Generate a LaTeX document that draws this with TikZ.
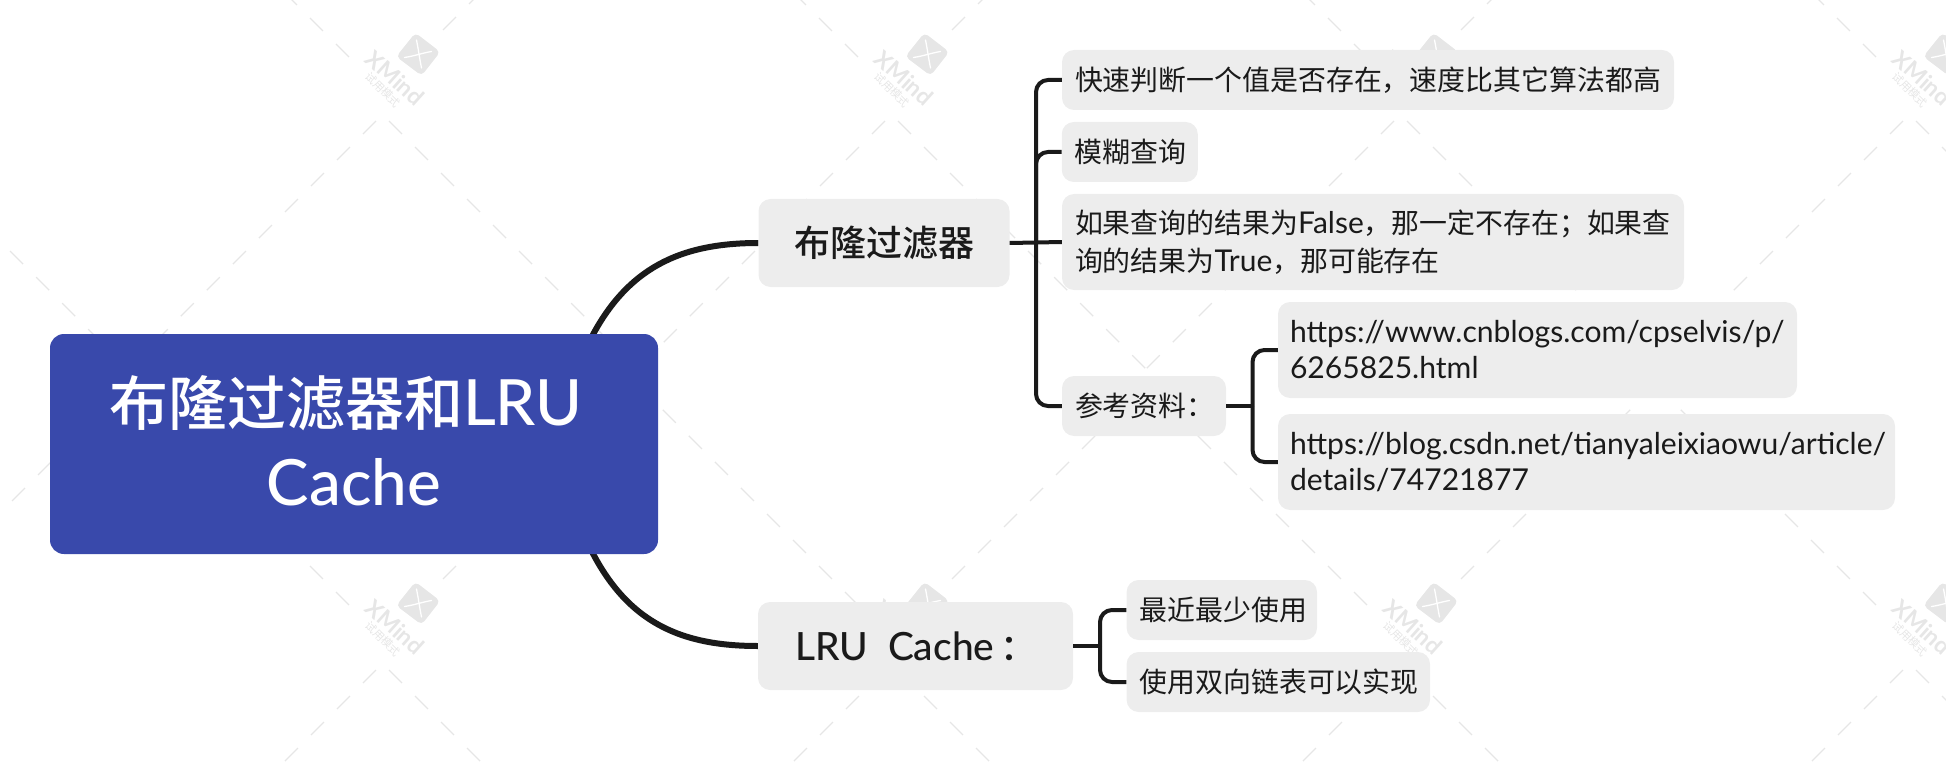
\documentclass[tikz,border=0pt]{standalone}
\usepackage{fontspec}
\usetikzlibrary{backgrounds}
\setmainfont{Noto Sans CJK SC}
\newfontfamily\lat[Scale=1.075]{Lato}
\newfontfamily\latm[Scale=1.08]{Lato Medium}
\newfontfamily\cjm{Noto Sans CJK SC Medium}
\newfontfamily\wmfont{Lato}
\definecolor{boxgray}{HTML}{EDEDED}
\definecolor{rootblue}{HTML}{3949AB}
\definecolor{inkc}{HTML}{1A1A1A}
\definecolor{wm}{HTML}{E6E6E6}
\tikzset{
  wmdash/.style={draw=wm,line width=1.2pt,dash pattern=on 18.4pt off 18.4pt},
  topic/.style={fill=boxgray,rounded corners=12pt,inner ysep=0pt,align=left,text=inkc},
  leaf/.style={topic,inner xsep=13pt,font=\fontsize{27.9}{38}\selectfont},
  urlleaf/.style={topic,inner xsep=12pt,font=\fontsize{28}{36}\selectfont\lat},
  major/.style={topic,inner xsep=0pt,font=\cjm\fontsize{36}{44}\selectfont},
  rootbox/.style={fill=rootblue,rounded corners=14pt,inner sep=0pt,align=center,text=white,font=\cjm\fontsize{59}{80}\selectfont},
  trunk/.style={draw=inkc,line width=6pt},
  twig/.style={draw=inkc,line width=4pt,rounded corners=12pt},
}
\begin{document}
\begin{tikzpicture}[x=1pt,y=-1pt]
\useasboundingbox (0,0) rectangle (1946,762);
\begin{scope}[on background layer]
\clip (0,0) rectangle (1946,762);
% watermark lattice
\foreach \cx in {-126.5,382.5,891.5,1400.5,1909.5}{
  \begin{scope}[shift={(\cx,0)}]
    % row 1
    \draw[wmdash] (6.5,121) -- (254.5,369);
    \draw[wmdash] (-6.5,121) -- (-254.5,369);
    \draw[wmdash] (-33.5,57) -- (-92,-1.5);
    \draw[wmdash] (60.5,30) -- (92,-1.5);
    % row 2
    \draw[wmdash] (-33.5,605) -- (-254.5,384);
    \draw[wmdash] (60.5,579) -- (254.5,385);
    \draw[wmdash] (6.5,670) -- (100,763.5);
    \draw[wmdash] (-6.5,670) -- (-100,763.5);
    \foreach \ty in {0,549}{
      \begin{scope}[shift={(0,\ty)}]
        \draw[fill=wm,draw=wm,line width=1pt,rounded corners=4pt] (33,33.5) -- (57,52) -- (39,75) -- (14.5,56.5) -- cycle;
        \draw[white,line width=1.3pt,line cap=round] (34,40) .. controls (36,50) and (37,58) .. (39,68);
        \draw[white,line width=1.3pt,line cap=round] (22,57.5) .. controls (32,56) and (40,53) .. (49,51.5);
        \node[rotate=-42,text=wm,inner sep=0pt,font=\wmfont\bfseries\fontsize{23}{23}\selectfont] (wx\cx\ty) at (12.5,78) {XMind};
        \node[rotate=-45,text=wm,inner sep=0pt,font=\fontsize{11}{11}\selectfont] (wz\cx\ty) at (0.5,90) {试用模式};
      \end{scope}
    }
  \end{scope}
}
\end{scope}
% nodes
\node[rootbox,minimum width=608pt,minimum height=220pt] (root) at (354,444) {布隆过滤器和{\latm LRU}\hspace*{16pt}\\{\latm Cache}\rule[-6pt]{0pt}{1pt}};
\node[major,minimum width=251pt,minimum height=88pt] (bloom) at (884,243) {布隆过滤器};
\node[major,minimum width=315pt,minimum height=88pt,inner xsep=37pt,text width=241pt] (lru) at (915.5,646) {\mbox{{\latm LRU\hspace{20pt}Cache}\hspace{6pt}：}};
\node[leaf,minimum width=612pt,minimum height=60pt,text width=586pt] (c1) at (1368,80) {快速判断一个值是否存在，速度比其它算法都高};
\node[leaf,minimum width=135.5pt,minimum height=60pt,text width=110pt] (c2) at (1129.75,152) {模糊查询};
\node[leaf,minimum width=622pt,minimum height=96pt,text width=596pt] (c3) at (1373,242) {如果查询的结果为{\lat False}，那一定不存在；如果查\\询的结果为{\lat True}，那可能存在};
\node[leaf,minimum width=164pt,minimum height=60pt,text width=138pt] (c4) at (1144,406) {参考资料：};
\node[urlleaf,minimum width=519pt,minimum height=96pt,text width=495pt] (u1) at (1537.5,350) {https://www.cnblogs.com/cpselvis/p/\\6265825.html};
\node[urlleaf,minimum width=617pt,minimum height=96pt,text width=593pt] (u2) at (1586.5,462) {https://blog.csdn.net/tianyaleixiaowu/article/\\details/74721877};
\node[leaf,minimum width=190.4pt,minimum height=60pt,text width=164.4pt] (l1) at (1221.8,610) {最近最少使用};
\node[leaf,minimum width=303.4pt,minimum height=60pt,text width=277.4pt] (l2) at (1278.3,682) {使用双向链表可以实现};
% helper points
\coordinate (sb) at (1036,243);
\coordinate (sr) at (1252.5,406);
\coordinate (sl) at (1100,646);
% connectors
\begin{scope}[on background layer]
\draw[trunk] (bloom.west) .. controls (680,243) and (627,268) .. ([shift={(-68,6)}]root.north east);
\draw[trunk] (lru.west) .. controls (680,646) and (627,622) .. ([shift={(-68,-6)}]root.south east);
\end{scope}
\draw[twig] (bloom.east) -- (c3.west);
\draw[twig] (sb) |- (c1.west);
\draw[twig] (sb) |- (c2.west);
\draw[twig] (sb) |- (c4.west);
\draw[twig] (c4.east) -- (sr);
\draw[twig] (sr) |- (u1.west);
\draw[twig] (sr) |- (u2.west);
\draw[twig] (lru.east) -- (sl);
\draw[twig] (sl) |- (l1.west);
\draw[twig] (sl) |- (l2.west);
\end{tikzpicture}
\end{document}
